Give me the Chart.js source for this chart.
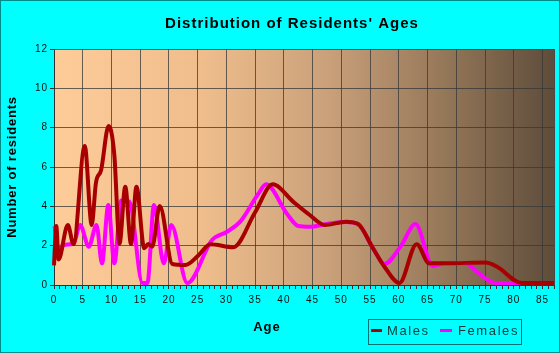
<!DOCTYPE html>
<html>
<head>
<meta charset="utf-8">
<script src="https://cdn.jsdelivr.net/npm/chart.js@4/dist/chart.umd.min.js"></script>
<style>
html,body{margin:0;padding:0;background:#00ffff;}
#wrap{width:560px;height:353px;}
</style>
</head>
<body>
<div id="wrap"><canvas id="c" width="560" height="353"></canvas></div>
<script>
const chartTitle = "Distribution of Residents' Ages";
const xAxisTitle = "Age";
const yAxisTitle = "Number of residents";
const seriesNames = ["Males", "Females"];

const maleAges   = [0, 0.4, 0.8, 2.4, 3.4, 5.35, 6.56, 7.3, 8.2, 9.5, 10.5, 11.4, 12.4, 13.4, 14.35, 15.7, 16.4, 17.1, 18.4, 20.6, 22.9, 25.2, 27.2, 31.2, 35, 38.05, 41.6, 44.5, 47.1, 50.8, 52.9, 55.5, 57.5, 60.1, 63.1, 65.3, 68.4, 75.1, 77.1, 81.4, 87];
const maleValues = [1.0, 3.0, 1.3, 3.05, 2.08, 7.07, 3.05, 5.2, 5.85, 8.08, 6.6, 2.1, 5.0, 2.08, 5.0, 1.87, 2.08, 1.95, 4.02, 1.07, 1.02, 1.53, 2.07, 1.92, 3.7, 5.12, 4.24, 3.56, 3.05, 3.22, 3.1, 1.87, 0.93, 0.1, 2.07, 1.1, 1.1, 1.15, 0.93, 0.1, 0.1];

const femaleAges   = [0.1, 0.7, 2.0, 3.4, 4.55, 6.05, 7.4, 8.35, 9.45, 10.5, 11.7, 13.1, 15.4, 16.25, 17.4, 19.1, 20.4, 23.2, 27.5, 30.1, 32.4, 35.6, 36.9, 40.5, 42.5, 44.5, 48, 50.8, 52.9, 55.5, 57.5, 60.3, 62.9, 65.9, 68, 71.6, 73.9, 76.8, 87];
const femaleValues = [3.0, 1.9, 2.05, 2.1, 3.05, 1.95, 3.05, 1.1, 4.07, 1.1, 4.3, 4.24, 0.1, 0.1, 4.07, 1.1, 3.05, 0.1, 2.29, 2.71, 3.22, 4.66, 5.12, 3.64, 3.0, 2.96, 3.13, 3.2, 3.1, 1.87, 1.07, 1.95, 3.1, 0.97, 1.1, 1.1, 0.59, 0.1, 0.1];

const xTickLabels = ["0","5","10","15","20","25","30","35","40","45","50","55","60","65","70","75","80","85"];
const yTickLabels = ["0","2","4","6","8","10","12"];

const seriesColors = ["#a80000", "#ff00ff"];

function toPoints(xs, ys){ return xs.map((x,i)=>({x:x, y:ys[i]})); }

const FONT = "'Liberation Sans', Arial, sans-serif";

const decor = {
  id: 'decor',
  beforeDraw(chart){
    const ctx = chart.ctx, a = chart.chartArea;
    ctx.save();
    ctx.fillStyle = '#00ffff';
    ctx.fillRect(0,0,chart.width,chart.height);
    ctx.strokeStyle = '#008b8b';
    ctx.lineWidth = 1;
    ctx.strokeRect(0.5,0.5,chart.width-1,chart.height-1);
    const g = ctx.createLinearGradient(a.left,0,a.right,0);
    g.addColorStop(0,'#fdcc99');
    g.addColorStop(0.3,'#efbd8c');
    g.addColorStop(0.55,'#c9a07a');
    g.addColorStop(0.78,'#957759');
    g.addColorStop(1,'#5e4c3a');
    ctx.fillStyle = g;
    ctx.fillRect(a.left,a.top,a.right-a.left,a.bottom-a.top);
    ctx.restore();
    ctx.letterSpacing = '1px';
  },
  afterDraw(chart){
    const ctx = chart.ctx, a = chart.chartArea;
    ctx.save();
    // plot frame right edge
    ctx.strokeStyle = '#4a4a4a';
    ctx.lineWidth = 1;
    ctx.beginPath();
    ctx.moveTo(Math.round(a.right)+0.5, a.top);
    ctx.lineTo(Math.round(a.right)+0.5, a.bottom);
    ctx.stroke();
    // title
    ctx.fillStyle = '#000';
    ctx.textBaseline = 'middle';
    ctx.textAlign = 'center';
    ctx.letterSpacing = '1px';
    ctx.font = 'bold 15px ' + FONT;
    ctx.fillText(chartTitle, 292, 24);
    // x title
    ctx.font = 'bold 13px ' + FONT;
    ctx.fillText(xAxisTitle, 267, 327);
    // y title
    ctx.save();
    ctx.translate(12, 167);
    ctx.rotate(-Math.PI/2);
    ctx.letterSpacing = '0.8px';
    ctx.fillText(yAxisTitle, 0, 0);
    ctx.restore();
    // legend
    ctx.strokeStyle = '#007070';
    ctx.lineWidth = 1;
    ctx.strokeRect(368.5, 319.5, 153, 25);
    ctx.font = '13px ' + FONT;
    ctx.letterSpacing = '1.6px';
    ctx.textAlign = 'left';
    ctx.lineWidth = 3;
    const items = [[371, 382, 387], [440, 452, 458]];
    items.forEach((it, i) => {
      ctx.strokeStyle = seriesColors[i];
      ctx.beginPath();
      ctx.moveTo(it[0], 330.5);
      ctx.lineTo(it[1], 330.5);
      ctx.stroke();
      ctx.fillStyle = '#0b3b3b';
      ctx.fillText(seriesNames[i], it[2], 331);
    });
    ctx.restore();
  }
};

new Chart(document.getElementById('c'), {
  type: 'line',
  data: {
    datasets: [
      { label: seriesNames[0], data: toPoints(maleAges, maleValues), borderColor: seriesColors[0], borderWidth: 4, pointRadius: 0, cubicInterpolationMode: 'monotone', fill: false, clip: 6 },
      { label: seriesNames[1], data: toPoints(femaleAges, femaleValues), borderColor: seriesColors[1], borderWidth: 4, pointRadius: 0, cubicInterpolationMode: 'monotone', fill: false, clip: 6 }
    ]
  },
  options: {
    responsive: false,
    animation: false,
    events: [],
    layout: { padding: { left: 0, right: 6, top: 49, bottom: 0 } },
    plugins: { legend: { display: false }, title: { display: false }, tooltip: { enabled: false } },
    scales: {
      x: {
        type: 'linear', min: 0, max: 87,
        afterFit(s){ s.height = 68; },
        afterBuildTicks(s){ const t=[]; for(let v=0; v<=87; v++) t.push({value:v}); s.ticks = t; },
        ticks: {
          autoSkip: false, maxRotation: 0, minRotation: 0, padding: 5,
          color: '#111', font: { family: FONT, size: 10 },
          callback(v){ const idx = xTickLabels.indexOf(String(v)); return idx >= 0 ? xTickLabels[idx] : ''; }
        },
        grid: {
          color: (c) => (c.tick && c.tick.value % 5 === 0) ? 'rgba(55,55,55,0.75)' : 'rgba(0,0,0,0)',
          tickColor: '#333', tickLength: 4, lineWidth: 1
        },
        border: { color: '#333', width: 1 }
      },
      y: {
        min: 0, max: 12,
        afterFit(s){ s.width = 54; },
        afterBuildTicks(s){ s.ticks = yTickLabels.map(l => ({value: Number(l)})); },
        ticks: {
          padding: 2, color: '#111', font: { family: FONT, size: 10 },
          callback(v){ const idx = yTickLabels.indexOf(String(v)); return idx >= 0 ? yTickLabels[idx] : ''; }
        },
        grid: { color: 'rgba(55,55,55,0.75)', tickColor: '#333', tickLength: 4, lineWidth: 1 },
        border: { color: '#333', width: 1 }
      }
    }
  },
  plugins: [decor]
});
</script>
</body>
</html>
